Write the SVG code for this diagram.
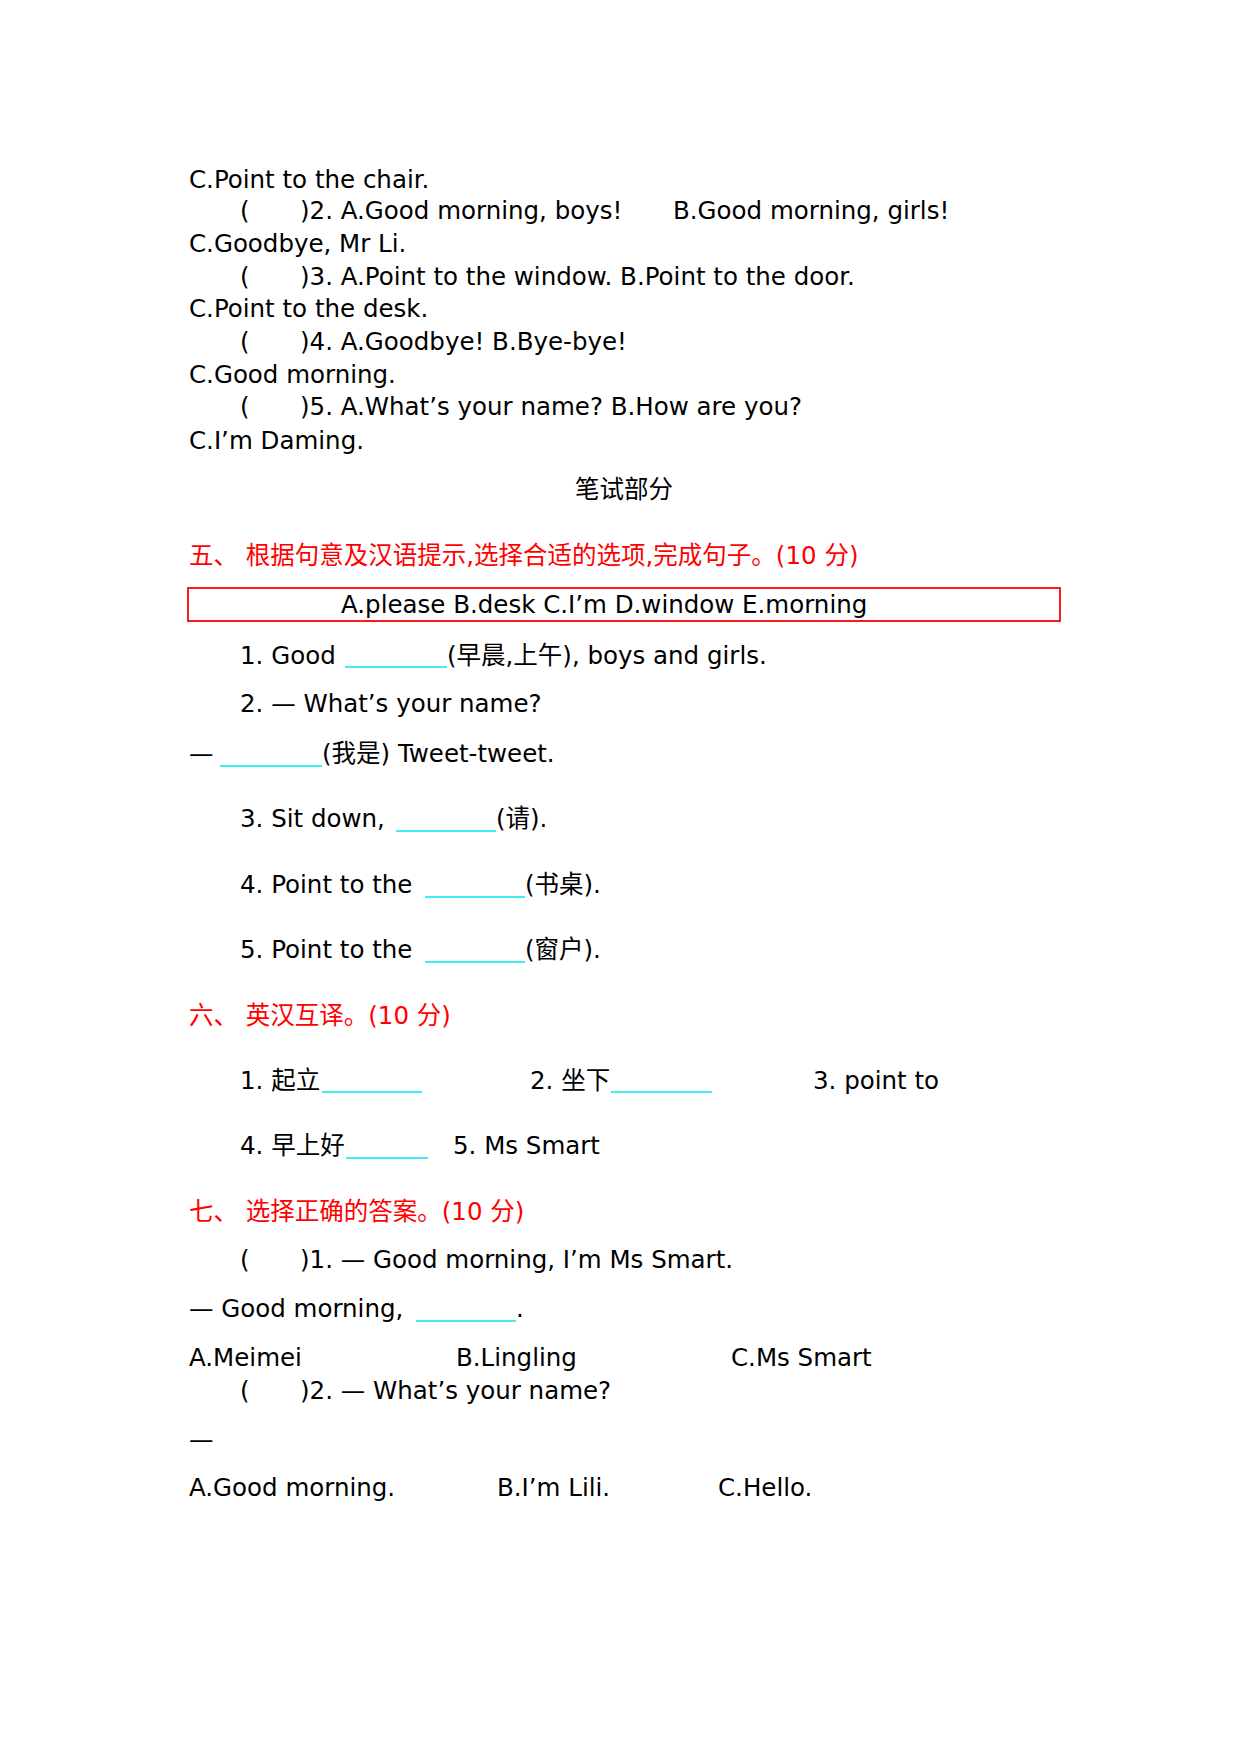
<svg xmlns="http://www.w3.org/2000/svg" width="1240" height="1754" viewBox="0 0 1240 1754">
<style>
text{font-family:"DejaVu Sans","Noto Sans CJK SC",sans-serif;font-size:24.5px;fill:#000}
.r{fill:#ff0000}
.b{stroke:#00e5ee;stroke-width:1.6}
</style>
<rect width="1240" height="1754" fill="#fff"/>
<g id="part1">
<text x="189" y="188">C.Point to the chair.</text>
<text x="240" y="219">(</text><text x="300" y="219">)2. A.Good morning, boys!</text><text x="673" y="219">B.Good morning, girls!</text>
<text x="189" y="252">C.Goodbye, Mr Li.</text>
<text x="240" y="285">(</text><text x="300" y="285">)3. A.Point to the window. B.Point to the door.</text>
<text x="189" y="317">C.Point to the desk.</text>
<text x="240" y="350">(</text><text x="300" y="350">)4. A.Goodbye! B.Bye-bye!</text>
<text x="189" y="383">C.Good morning.</text>
<text x="240" y="415">(</text><text x="300" y="415">)5. A.What’s your name? B.How are you?</text>
<text x="189" y="449">C.I’m Daming.</text>
<text x="624" y="498" text-anchor="middle">笔试部分</text>
</g>
<g id="part5">
<text class="r" x="189" y="564">五、 根据句意及汉语提示,选择合适的选项,完成句子。(10 分)</text>
<rect x="188" y="588" width="872" height="33" fill="none" stroke="#ff0000" stroke-width="1.8"/>
<text x="341" y="613">A.please   B.desk   C.I’m   D.window   E.morning</text>
<text x="240" y="664">1. Good</text><text x="447" y="664">(早晨,上午), boys and girls.</text>
<text x="240" y="712">2. — What’s your name?</text>
<text x="189" y="762">—</text><text x="322" y="762">(我是) Tweet-tweet.</text>
<text x="240" y="827">3. Sit down,</text><text x="496" y="827">(请).</text>
<text x="240" y="893">4. Point to the</text><text x="525" y="893">(书桌).</text>
<text x="240" y="958">5. Point to the</text><text x="525" y="958">(窗户).</text>
</g>
<g id="part6">
<text class="r" x="189" y="1024">六、 英汉互译。(10 分)</text>
<text x="240" y="1089">1. 起立</text><text x="530" y="1089">2. 坐下</text><text x="813" y="1089">3. point to</text>
<text x="240" y="1154">4. 早上好</text><text x="453" y="1154">5. Ms Smart</text>
</g>
<g id="part7">
<text class="r" x="189" y="1220">七、 选择正确的答案。(10 分)</text>
<text x="240" y="1268">(</text><text x="300" y="1268">)1. — Good morning, I’m Ms Smart.</text>
<text x="189" y="1317">— Good morning,</text><text x="516" y="1317">.</text>
<text x="189" y="1366">A.Meimei</text><text x="456" y="1366">B.Lingling</text><text x="731" y="1366">C.Ms Smart</text>
<text x="240" y="1399">(</text><text x="300" y="1399">)2. — What’s your name?</text>
<text x="189" y="1448">—</text>
<text x="189" y="1496">A.Good morning.</text><text x="497" y="1496">B.I’m Lili.</text><text x="718" y="1496">C.Hello.</text>
</g>
<g id="blanks">
<line class="b" x1="345" y1="667" x2="447" y2="667"/>
<line class="b" x1="220" y1="766" x2="322" y2="766"/>
<line class="b" x1="396" y1="831" x2="496" y2="831"/>
<line class="b" x1="425" y1="897" x2="525" y2="897"/>
<line class="b" x1="425" y1="962" x2="525" y2="962"/>
<line class="b" x1="322" y1="1092" x2="422" y2="1092"/>
<line class="b" x1="611" y1="1092" x2="712" y2="1092"/>
<line class="b" x1="346" y1="1158" x2="428" y2="1158"/>
<line class="b" x1="416" y1="1321" x2="516" y2="1321"/>
</g>
</svg>
